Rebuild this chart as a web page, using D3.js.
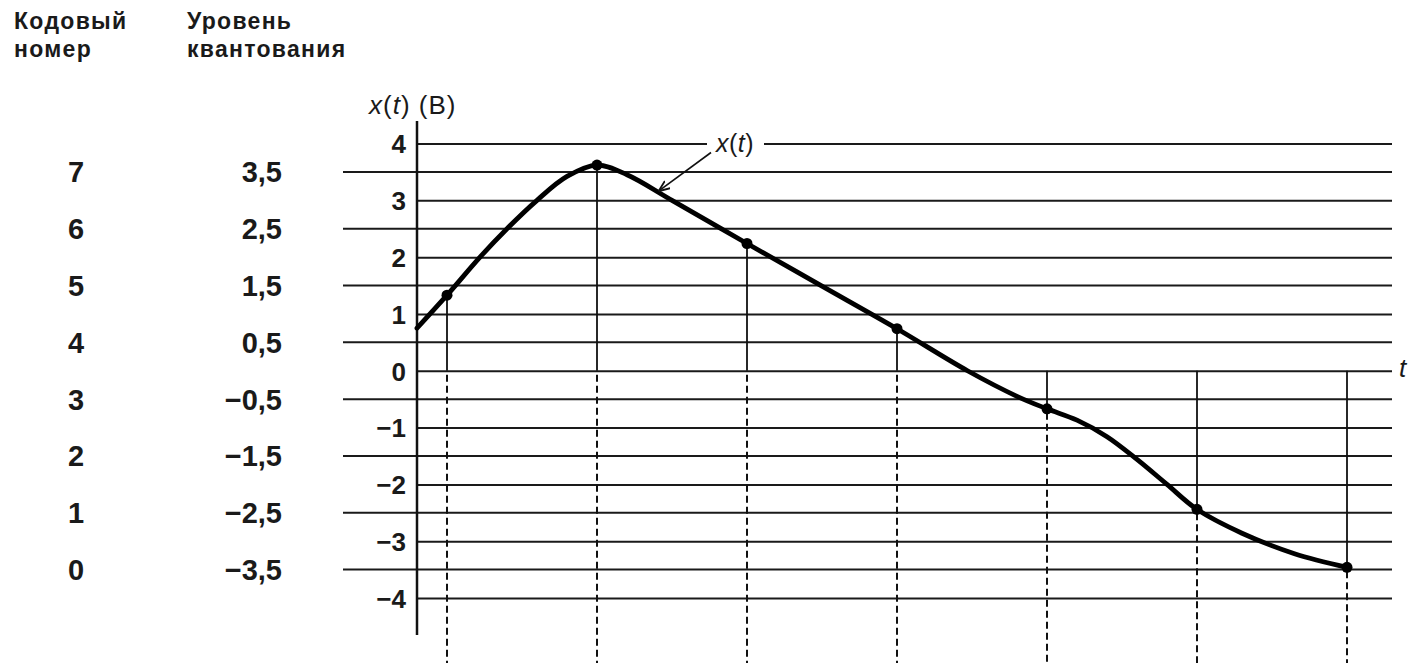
<!DOCTYPE html>
<html lang="ru">
<head>
    <meta charset="UTF-8">
    <title>Квантование сигнала</title>
    <script src="https://d3js.org/d3.v7.min.js"></script>
</head>
<style>
    body { margin: 0; background: #fff; }
    text { font-family: "Liberation Sans", Arial, sans-serif; fill: #1a1a1a; }
    .lbl { font-size: 29px; font-weight: bold; }
    .head { font-size: 23px; font-weight: bold; letter-spacing: 1.3px; }
    .tick text { font-size: 26px; font-weight: bold; }
</style>
<body>
    <svg width="1416" height="663"></svg>
</body>
<script>
// кодовые номера и уровни квантования
var codes = [7, 6, 5, 4, 3, 2, 1, 0];
var levels = [3.5, 2.5, 1.5, 0.5, -0.5, -1.5, -2.5, -3.5];
var yTicks = [4, 3, 2, 1, 0, -1, -2, -3, -4];

// непрерывный сигнал x(t)
var curveT = [0, 0.2, 0.42, 0.6, 0.8, 1.0, 1.2, 1.4, 1.7, 2.2, 2.7, 3.2, 3.67, 4.0, 4.2, 4.4, 4.6, 4.8, 5.0, 5.2, 5.5, 5.85, 6.2];
var curveX = [0.75, 1.33, 2.0, 2.5, 3.0, 3.42, 3.62, 3.45, 3.0, 2.24, 1.49, 0.74, 0, -0.45, -0.67, -0.87, -1.16, -1.56, -2.0, -2.44, -2.86, -3.22, -3.46];

// отсчёты
var sampleT = [0.2, 1.2, 2.2, 3.2, 4.2, 5.2, 6.2];
var sampleX = [1.33, 3.62, 2.24, 0.74, -0.67, -2.44, -3.46];

var W = 1416, H = 663;
var svg = d3.select("svg");

var x = d3.scaleLinear().domain([0, 6.5]).range([417, 1392]);
var y = d3.scaleLinear().domain([-4, 4]).range([598, 143.5]);

// линии уровней квантования (начинаются левее оси)
svg.append("g").selectAll("line")
   .data(levels)
   .enter()
   .append("line")
   .attr("x1", 343)
   .attr("x2", x(6.5))
   .attr("y1", d => y(d))
   .attr("y2", d => y(d))
   .attr("stroke", "#1a1a1a")
   .attr("stroke-width", 2);

// ось Y с целыми делениями, линии сетки через всю ширину
var axisY = d3.axisLeft(y).tickValues(yTicks)
   .tickSize(-(x(6.5) - x(0)))
   .tickPadding(11)
   .tickFormat(d => d < 0 ? "\u2212" + Math.abs(d) : d);

var gy = svg.append("g")
   .attr("transform", "translate(" + x(0) + ",0)")
   .call(axisY);
gy.select(".domain").remove();
gy.selectAll(".tick line").attr("stroke", "#1a1a1a").attr("stroke-width", 2);
gy.selectAll(".tick text").attr("fill", "#1a1a1a").attr("dy", "0.36em");

// вертикальная ось
svg.append("line")
   .attr("x1", x(0)).attr("x2", x(0))
   .attr("y1", 121).attr("y2", 635)
   .attr("stroke", "#111").attr("stroke-width", 2.5);

// вертикали отсчётов: сплошные до оси, пунктир вниз
var samples = sampleT.map((t, i) => ({t: t, v: sampleX[i]}));

svg.append("g").selectAll("line")
   .data(samples)
   .enter()
   .append("line")
   .attr("x1", d => x(d.t)).attr("x2", d => x(d.t))
   .attr("y1", d => y(d.v))
   .attr("y2", y(0))
   .attr("stroke", "#111").attr("stroke-width", 1.8);

svg.append("g").selectAll("line")
   .data(samples)
   .enter()
   .append("line")
   .attr("x1", d => x(d.t)).attr("x2", d => x(d.t))
   .attr("y1", d => y(Math.min(0, d.v)) + 4)
   .attr("y2", H)
   .attr("stroke", "#111").attr("stroke-width", 2)
   .attr("stroke-dasharray", "7,4");

// кривая x(t)
var line = d3.line()
   .x(d => x(d[0]))
   .y(d => y(d[1]))
   .curve(d3.curveCatmullRom.alpha(0.5));

svg.append("path")
   .datum(curveT.map((t, i) => [t, curveX[i]]))
   .attr("d", line)
   .attr("fill", "none")
   .attr("stroke", "#000")
   .attr("stroke-width", 4.8)
   .attr("stroke-linecap", "round");

svg.append("g").selectAll("circle")
   .data(samples)
   .enter()
   .append("circle")
   .attr("cx", d => x(d.t))
   .attr("cy", d => y(d.v))
   .attr("r", 5.5)
   .attr("fill", "#000");

// подпись кривой с выноской
var labT = 2.12, labV = 4;
svg.append("rect")
   .attr("x", x(labT) - 28).attr("y", y(labV) - 5)
   .attr("width", 57).attr("height", 10)
   .attr("fill", "#fff");
var lab = svg.append("text")
   .attr("x", x(labT)).attr("y", y(labV) + 8)
   .attr("text-anchor", "middle")
   .style("font-size", "25px")
   .style("letter-spacing", "0.5px");
lab.append("tspan").attr("font-style", "italic").text("x");
lab.append("tspan").text("(");
lab.append("tspan").attr("font-style", "italic").text("t");
lab.append("tspan").text(")");

svg.append("defs").append("marker")
   .attr("id", "arr")
   .attr("viewBox", "0 0 10 10")
   .attr("refX", 10).attr("refY", 5)
   .attr("markerWidth", 7).attr("markerHeight", 7)
   .attr("orient", "auto")
   .append("path")
   .attr("d", "M0,1 L10,5 L0,9")
   .attr("fill", "none")
   .attr("stroke", "#111")
   .attr("stroke-width", 1.6);

svg.append("line")
   .attr("x1", x(labT) - 24).attr("y1", y(labV) + 9)
   .attr("x2", x(1.61)).attr("y2", y(3.16))
   .attr("stroke", "#111").attr("stroke-width", 1.6)
   .attr("marker-end", "url(#arr)");

// подписи осей
var yl = svg.append("text")
   .attr("x", 369).attr("y", 114)
   .style("font-size", "26px")
   .style("letter-spacing", "1px");
yl.append("tspan").attr("font-style", "italic").text("x");
yl.append("tspan").text("(");
yl.append("tspan").attr("font-style", "italic").text("t");
yl.append("tspan").text(") (В)");

svg.append("text")
   .attr("x", x(6.5) + 7).attr("y", y(0) + 6)
   .attr("font-style", "italic")
   .style("font-size", "26px")
   .text("t");

// левые колонки таблицы
svg.append("g").selectAll("text")
   .data(codes)
   .enter()
   .append("text")
   .attr("class", "lbl")
   .attr("x", 76)
   .attr("y", (d, i) => y(levels[i]))
   .attr("dy", "0.36em")
   .attr("text-anchor", "middle")
   .text(d => d);

svg.append("g").selectAll("text")
   .data(levels)
   .enter()
   .append("text")
   .attr("class", "lbl")
   .attr("x", 282)
   .attr("y", d => y(d))
   .attr("dy", "0.36em")
   .attr("text-anchor", "end")
   .text(d => (d < 0 ? "\u2212" : "") + Math.abs(d).toFixed(1).replace(".", ","));

var heads = [["Кодовый", "номер", 14], ["Уровень", "квантования", 187]];
heads.forEach(function(h) {
    svg.append("text").attr("class", "head").attr("x", h[2]).attr("y", 29).text(h[0]);
    svg.append("text").attr("class", "head").attr("x", h[2]).attr("y", 57).text(h[1]);
});
</script>
</html>
